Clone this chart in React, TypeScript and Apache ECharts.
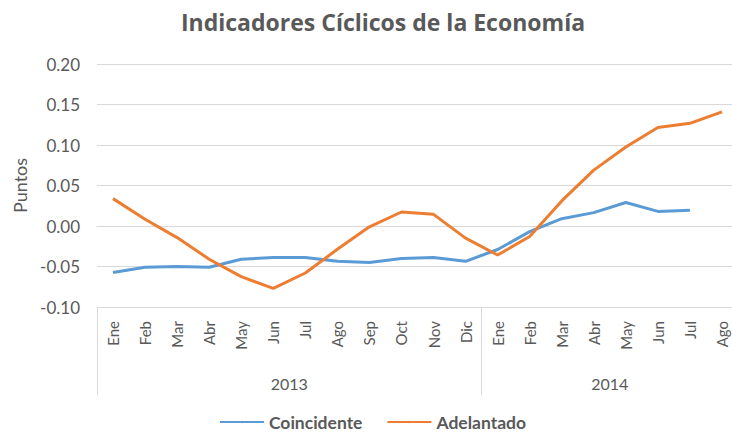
import React, { useEffect, useRef } from "react";
import * as echarts from "echarts";

const title = "Indicadores Cíclicos de la Economía";
const years = ["2013", "2014"];
const monthsPerYear = [12, 8];
const monthNames = ["Ene", "Feb", "Mar", "Abr", "May", "Jun", "Jul", "Ago", "Sep", "Oct", "Nov", "Dic"];
const coincidente = [
  -0.0575, -0.051, -0.05, -0.051, -0.041, -0.0388, -0.0388, -0.0436, -0.045, -0.040, -0.039, -0.0436,
  -0.029, -0.007, 0.009, 0.0165, 0.029, 0.018, 0.0194, null,
];
const adelantado = [
  0.0338, 0.0083, -0.0143, -0.041, -0.0625, -0.077, -0.058, -0.0288, -0.001, 0.0173, 0.0144, -0.015,
  -0.0358, -0.013, 0.031, 0.069, 0.0975, 0.1215, 0.1268, 0.141,
];
const yTicks = { min: -0.1, max: 0.2, interval: 0.05 };

const TEXT = "#595959";
const GRID = "#d9d9d9";
const FONT = "Lato";

export default function App() {
  const ref = useRef<HTMLDivElement>(null);
  useEffect(() => {
    if (!ref.current) return;
    const chart = echarts.init(ref.current, null, { renderer: "svg" });

    const categories: string[] = [];
    monthsPerYear.forEach((n) => {
      for (let i = 0; i < n; i++) categories.push(monthNames[i]);
    });
    const total = categories.length;
    const yearSlots: string[] = new Array(2 * total + 1).fill("");
    const tickIdx = new Set<number>([0]);
    let start = 0;
    monthsPerYear.forEach((n, i) => {
      yearSlots[start * 2 + n] = years[i];
      start += n;
      tickIdx.add(start * 2);
    });

    chart.setOption({
      animation: false,
      title: {
        text: title,
        left: 378,
        textAlign: "center",
        top: 5,
        textStyle: { fontFamily: "Open Sans", fontSize: 23, fontWeight: "bold", color: TEXT },
      },
      legend: {
        top: 408,
        left: "center",
        itemWidth: 44,
        itemHeight: 3,
        itemGap: 24,
        textStyle: { fontFamily: FONT, fontSize: 17.5, fontWeight: "bold", color: TEXT },
        data: ["Coincidente", "Adelantado"],
      },
      grid: { left: 97, top: 64, width: 641, height: 243, containLabel: false },
      xAxis: [
        {
          type: "category",
          data: categories,
          boundaryGap: true,
          axisLine: { lineStyle: { color: GRID, width: 1 } },
          axisTick: { show: false },
          axisLabel: {
            interval: 0,
            rotate: 90,
            margin: 14,
            fontFamily: FONT,
            fontSize: 15,
            color: TEXT,
          },
        },
        {
          type: "category",
          position: "bottom",
          data: yearSlots,
          boundaryGap: false,
          axisLine: { show: false },
          axisTick: {
            show: true,
            length: 88,
            interval: (i: number) => tickIdx.has(i),
            lineStyle: { color: GRID, width: 1 },
          },
          axisLabel: {
            interval: (i: number, v: string) => v !== "",
            margin: 68,
            fontFamily: FONT,
            fontSize: 16,
            color: TEXT,
          },
          splitLine: { show: false },
        },
      ],
      yAxis: {
        type: "value",
        min: yTicks.min,
        max: yTicks.max,
        interval: yTicks.interval,
        name: "Puntos",
        nameLocation: "middle",
        nameRotate: 90,
        nameGap: 64,
        nameTextStyle: { fontFamily: FONT, fontSize: 18, color: TEXT },
        axisLine: { show: false },
        axisTick: { show: false },
        axisLabel: {
          margin: 17,
          fontFamily: FONT,
          fontSize: 17,
          color: TEXT,
          formatter: (v: number) => v.toFixed(2),
        },
        splitLine: { lineStyle: { color: GRID, width: 1 } },
      },
      series: [
        {
          name: "Coincidente",
          type: "line",
          data: coincidente,
          symbol: "none",
          lineStyle: { color: "#5B9BD5", width: 3 },
          itemStyle: { color: "#5B9BD5" },
        },
        {
          name: "Adelantado",
          type: "line",
          data: adelantado,
          symbol: "none",
          lineStyle: { color: "#ED7D31", width: 3 },
          itemStyle: { color: "#ED7D31" },
        },
      ],
    });
    return () => chart.dispose();
  }, []);
  return (
    <div
      style={{ position: "absolute", left: 0, top: 0, width: 732, height: 435, overflow: "hidden" }}
    >
      <div ref={ref} style={{ width: 745, height: 435 }} />
    </div>
  );
}
